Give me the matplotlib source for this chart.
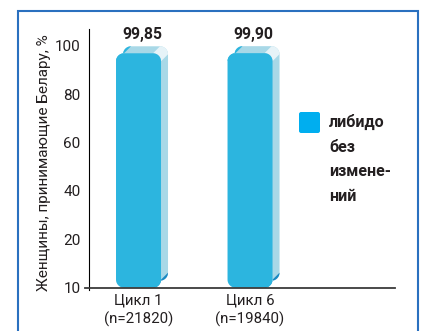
import numpy as np
import matplotlib
matplotlib.use("Agg")
import matplotlib.pyplot as plt
from matplotlib.patches import Polygon, FancyBboxPatch, Rectangle

# Data
categories = ["Цикл 1\n(n=21820)", "Цикл 6\n(n=19840)"]
values = [99.85, 99.90]
ytick_values = [0, 20, 40, 60, 80, 100]
ytick_labels = ["10", "20", "40", "60", "80", "100"]
ylabel = "Женщины, принимающие Белару, %"
legend_label = "либидо\nбез\nизмене-\nний"

# Colours
FRONT = "#2cb5df"
SIDE = "#a8d8e7"
HIGHLIGHT = "#e6f3f8"
SHADE = "#1a89c2"
LEGEND_SWATCH = "#00aeef"
FRAME = "#2a70bf"
TEXT = "#231f20"

plt.rcParams['font.family'] = ['Roboto', 'DejaVu Sans']

W, H = 421, 331
fig = plt.figure(figsize=(W / 100, H / 100), dpi=100)
ax = fig.add_axes([89 / W, 43.3 / H, 306 / W, 258.7 / H])
ax.set_xlim(-0.444, 2.30)
ax.set_ylim(0, 107)

# pixels per data unit, used for the 3D bar geometry
sx = ax.transData.transform((1, 0))[0] - ax.transData.transform((0, 0))[0]
sy = ax.transData.transform((0, 1))[1] - ax.transData.transform((0, 0))[1]


def arc(cx, cy, r, a0, a1, n=14):
    t = np.radians(np.linspace(a0, a1, n))
    return np.column_stack([cx + r / sx * np.cos(t), cy + r / sy * np.sin(t)])


def rounded_rect(x0, y0, x1, y1, r):
    rx, ry = r / sx, r / sy
    return np.vstack([
        arc(x1 - rx, y0 + ry, r, -90, 0),
        arc(x1 - rx, y1 - ry, r, 0, 90),
        arc(x0 + rx, y1 - ry, r, 90, 180),
        arc(x0 + rx, y0 + ry, r, 180, 270),
    ])


def corner_band(cx, cy, r, a0, a1, ddx, ddy):
    front = arc(cx, cy, r, a0, a1)
    back = front + np.array([ddx, ddy])
    return np.vstack([front, back[::-1]])


bar_w = 45 / sx
depth_x = 7 / sx
depth_y = 7 / sy
radius = 8
rx, ry = radius / sx, radius / sy

for i, v in enumerate(values):
    x0, x1 = i - bar_w / 2, i + bar_w / 2
    front_top = v - depth_y
    # back (extruded) body
    ax.add_patch(Polygon(rounded_rect(x0 + depth_x, depth_y, x1 + depth_x, v, radius),
                         closed=True, fc=SIDE, ec="none", zorder=2))
    # top-right highlight
    ax.add_patch(Polygon(corner_band(x1 - rx, front_top - ry, radius, 0, 90, depth_x, depth_y),
                         closed=True, fc=HIGHLIGHT, ec="none", zorder=2.1))
    # bottom-right shading
    ax.add_patch(Polygon(corner_band(x1 - rx, ry, radius, -90, 0, depth_x, depth_y),
                         closed=True, fc=SHADE, ec="none", zorder=2.1))
    # top-left bevel
    ax.add_patch(Polygon(corner_band(x0 + rx, front_top - ry, radius, 90, 180, depth_x, depth_y),
                         closed=True, fc=FRONT, ec="none", zorder=2.1))
    # front face
    ax.add_patch(Polygon(rounded_rect(x0, 0, x1, front_top, radius),
                         closed=True, fc=FRONT, ec="none", zorder=2.2))
    ax.annotate(f"{v:.2f}".replace(".", ","), xy=(i + depth_x / 2, v), xytext=(0, 5),
                textcoords="offset points", ha="center", va="baseline",
                fontsize=11.3, fontweight="bold", color=TEXT)

# Axes styling
for side in ("top", "right"):
    ax.spines[side].set_visible(False)
ax.spines["left"].set_color("black")
ax.spines["left"].set_linewidth(0.8)
ax.spines["left"].set_bounds(-0.8, 107)
ax.spines["bottom"].set_color("#3a3a3a")
ax.spines["bottom"].set_linewidth(1.3)
ax.spines["bottom"].set_bounds(-0.48, 2.30)
ax.spines["bottom"].set_zorder(5)

ax.set_yticks(ytick_values, ytick_labels)
ax.tick_params(axis="y", length=0, pad=6, labelsize=11, labelcolor=TEXT)
ax.set_xticks(range(len(categories)), categories)
ax.tick_params(axis="x", length=0, pad=4, labelsize=10.8, labelcolor=TEXT)
for lbl in ax.get_xticklabels():
    lbl.set_linespacing(1.4)

fig.text(44 / W, 1 - 163 / H, ylabel, rotation=90, ha="center", va="center",
         fontsize=11, color=TEXT)

# Legend
fig.add_artist(FancyBboxPatch((299 / W, 1 - 133 / H), 21 / W, 21 / H,
                              boxstyle="round,pad=0,rounding_size=0.005",
                              mutation_aspect=W / H, transform=fig.transFigure,
                              fc=LEGEND_SWATCH, ec="none"))
for j, line in enumerate(legend_label.split("\n")):
    fig.text(329 / W, 1 - (127 + 24.7 * j) / H, line, fontsize=11.5,
             fontweight="bold", va="baseline", ha="left", color=TEXT)

# Frame
fig.add_artist(Rectangle((17.5 / W, -0.1), 400 / W, 1.1 - 11 / H, fill=False,
                         ec=FRAME, lw=1.5, transform=fig.transFigure))

fig.savefig("out.png", dpi=100)
